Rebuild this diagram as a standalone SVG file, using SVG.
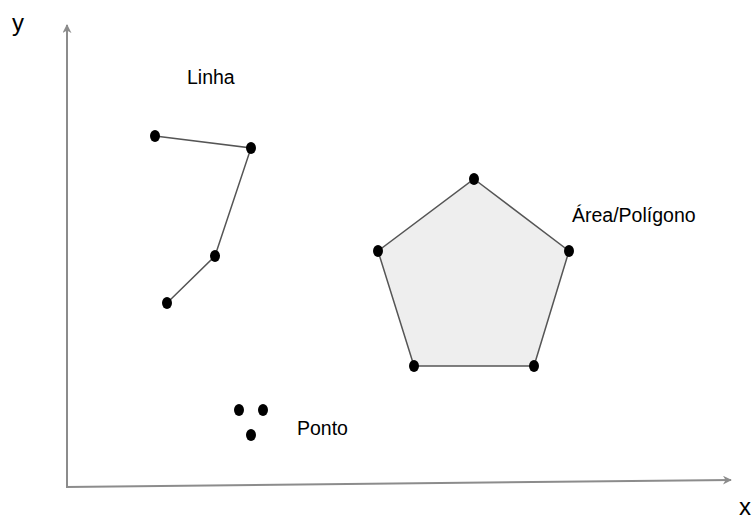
<svg xmlns="http://www.w3.org/2000/svg" width="755" height="520" viewBox="0 0 755 520">
  <defs>
    <style>
      .lbl { font-family: "Liberation Sans", Arial, sans-serif; font-size: 19.5px; fill: #000; }
      .axl { font-family: "Liberation Sans", Arial, sans-serif; font-size: 24px; fill: #000; }
      .axis { stroke: #8c8c8c; stroke-width: 2; fill: none; }
      .edge { stroke: #555; stroke-width: 1.5; fill: none; }
      .dot { fill: #000; }
    </style>
    <marker id="arr" viewBox="0 0 10 10" refX="9" refY="5" markerWidth="9" markerHeight="9" markerUnits="userSpaceOnUse" orient="auto">
      <path d="M0,0 L10,5 L0,10 L3,5 z" fill="#8c8c8c"/>
    </marker>
  </defs>
  <rect width="755" height="520" fill="#fff"/>

  <!-- axes -->
  <g id="axes">
    <path class="axis" d="M67,487 L67,25" marker-end="url(#arr)"/>
    <path class="axis" d="M66,487 L731,480" marker-end="url(#arr)"/>
    <text class="axl" x="12" y="31">y</text>
    <text class="axl" x="739" y="515">x</text>
  </g>

  <!-- polyline -->
  <g id="linha">
    <polyline class="edge" points="155,136 251,148 215,256 167,303"/>
    <ellipse class="dot" cx="155" cy="136" rx="5" ry="6"/>
    <ellipse class="dot" cx="251" cy="148" rx="5" ry="6"/>
    <ellipse class="dot" cx="215" cy="256" rx="5" ry="6"/>
    <ellipse class="dot" cx="167" cy="303" rx="5" ry="6"/>
    <text class="lbl" x="187" y="84">Linha</text>
  </g>

  <!-- polygon -->
  <g id="poligono">
    <polygon points="474,179 569,251 534,366 414,366 378,251" fill="#eeeeee" stroke="#555" stroke-width="1.5"/>
    <ellipse class="dot" cx="474" cy="179" rx="5" ry="6"/>
    <ellipse class="dot" cx="569" cy="251" rx="5" ry="6"/>
    <ellipse class="dot" cx="534" cy="366" rx="5" ry="6"/>
    <ellipse class="dot" cx="414" cy="366" rx="5" ry="6"/>
    <ellipse class="dot" cx="378" cy="251" rx="5" ry="6"/>
    <text class="lbl" x="572" y="222">Área/Polígono</text>
  </g>

  <!-- points -->
  <g id="ponto">
    <ellipse class="dot" cx="239" cy="410" rx="5" ry="6"/>
    <ellipse class="dot" cx="263" cy="410" rx="5" ry="6"/>
    <ellipse class="dot" cx="251" cy="435" rx="5" ry="6"/>
    <text class="lbl" x="297" y="435">Ponto</text>
  </g>
</svg>
